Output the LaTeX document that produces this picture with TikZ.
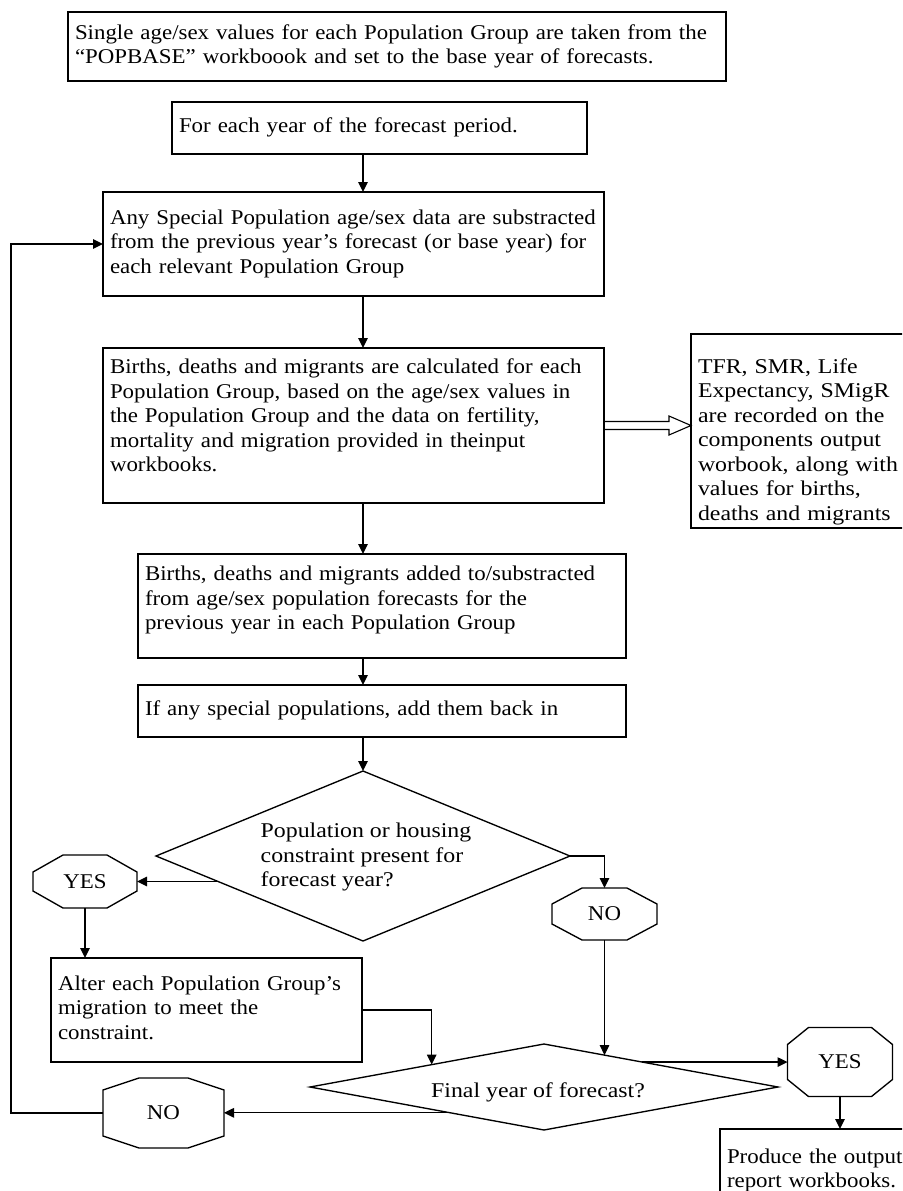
\documentclass[tikz,border=0pt]{standalone}
\usepackage{fontspec}
\setmainfont{Liberation Serif}
\newfontfamily\bodyfont[FakeStretch=1.09]{Liberation Serif}
\newfontfamily\widefont[FakeStretch=1.135]{Liberation Serif}
\usetikzlibrary{arrows.meta,calc,shapes.geometric}

% lines of a box, left aligned and never broken
\newcommand\boxlines[1]{\begin{tabular}{@{}l@{}}#1\end{tabular}}
% octagonal outline around a (rectangular) node: node, chamfer x, chamfer y
\newcommand\octagonframe[3]{%
  \draw ([xshift=#2]#1.north west) -- ([xshift=-#2]#1.north east)
     -- ([yshift=-#3]#1.north east) -- ([yshift=#3]#1.south east)
     -- ([xshift=-#2]#1.south east) -- ([xshift=#2]#1.south west)
     -- ([yshift=#3]#1.south west) -- ([yshift=-#3]#1.north west) -- cycle;}

\begin{document}
\begin{tikzpicture}[x=1pt,y=-1pt,line width=1.35pt,
  txt/.style={font=\fontsize{21}{24.5}\bodyfont},
  widetxt/.style={font=\fontsize{21}{24.5}\widefont},
  box/.style n args={2}{draw, rectangle, anchor=north west, inner xsep=7pt,
    inner ysep=0pt, outer sep=0pt, text width=#1, minimum height=#2,
    align=left, txt},
  dia/.style n args={2}{draw, diamond, inner sep=0pt, outer sep=0pt,
    minimum width=#1, minimum height=#2},
  octo/.style n args={2}{rectangle, inner sep=0pt, outer sep=0pt,
    minimum width=#1, minimum height=#2, txt},
  arr/.style={-{Triangle[length=10pt,width=9.5pt]}}]

\useasboundingbox (0,0) rectangle (902,1191);
\fill[white] (0,0) rectangle (902,1191);
\clip (0,0) rectangle (902,1191);

\coordinate (col) at (363,0);
\coordinate (lc) at (11,0);

% process boxes
\node[box={644pt}{69pt}] (b1) at (68,12) {\boxlines{Single age/sex values for each Population Group are taken from the\\“POPBASE” workboook and set to the base year of forecasts.}};
\node[box={401pt}{52pt}] (b2) at (172,102) {\boxlines{For each year of the forecast period.}};
\node[box={487pt}{104pt}] (b3) at (103,192) {\boxlines{Any Special Population age/sex data are substracted\\from the previous year’s forecast (or base year) for\\each relevant Population Group}};
\node[box={487pt}{155pt}] (b4) at (103,348) {\boxlines{Births, deaths and migrants are calculated for each\\Population Group, based on the age/sex values in\\the Population Group and the data on fertility,\\mortality and migration provided in theinput\\workbooks.\rule[-23pt]{0pt}{23pt}}};
\node[box={230pt}{194pt}, widetxt] (r) at (691,334) {\boxlines{\rule{0pt}{39pt}TFR, SMR, Life\\Expectancy, SMigR\\are recorded on the\\components output\\worbook, along with\\values for births,\\deaths and migrants}};
\node[box={474pt}{104pt}] (b5) at (138,554) {\boxlines{Births, deaths and migrants added to/substracted\\from age/sex population forecasts for the\\previous year in each Population Group\rule[-19pt]{0pt}{19pt}}};
\node[box={474pt}{52pt}] (b6) at (138,685) {\boxlines{If any special populations, add them back in}};

% first decision
\node[dia={414pt}{170pt}] (d1) at (363,856) {};
\node[widetxt, align=left] (d1t) at ($(d1.center)+(3,1)$) {Population or housing\\constraint present for\\forecast year?};

\node[octo={104pt}{53pt}] (yes1) at (85,881.5) {YES};
\octagonframe{yes1}{30pt}{17pt}
\node[octo={105pt}{52pt}] (no1) at (604.5,914) {NO};
\octagonframe{no1}{30pt}{16pt}

\node[box={297pt}{104pt}] (alt) at (51,958) {\boxlines{Alter each Population Group’s\\migration to meet the\\constraint.}};

% second decision
\node[dia={468pt}{86pt}] (d2) at (544,1087) {};
\node[widetxt] (d2t) at ($(d2.center)+(-6,5)$) {Final year of forecast?};

\node[octo={105pt}{69pt}] (yes2) at (840,1062) {YES};
\octagonframe{yes2}{21pt}{17pt}
\node[octo={121pt}{70pt}] (no2) at (163.5,1113) {NO};
\octagonframe{no2}{36pt}{12pt}

\node[draw, rectangle, anchor=north west, inner xsep=7pt, inner ysep=17pt,
  outer sep=0pt, text width=186pt, align=left, txt] (prod) at (720,1129)
  {\boxlines{Produce the output\\report workbooks.}};

% connectors
\draw[arr] (b2.south -| col) -- (b3.north -| col);
\draw[arr] (b3.south -| col) -- (b4.north -| col);
\draw[arr] (b4.south -| col) -- (b5.north -| col);
\draw[arr] (b5.south -| col) -- (b6.north -| col);
\draw[arr] (b6.south -| d1.north) -- (d1.north);

% hollow block arrow to the components box
\draw[line width=1.1pt] ($(b4.east)+(0,-4)$) -- ++(65,0) -- ++(0,-5.5)
  -- (b4.east -| r.west) -- ($(b4.east)+(65,9.5)$) -- ++(0,-5.5)
  -- ($(b4.east)+(0,4)$);

\coordinate (p1) at ($(d1.west)!0.3!(d1.south)$);
\draw[arr] (p1) -- (p1 -| yes1.east);
\draw[arr] (yes1.south) -- (yes1.south |- alt.north);
\draw[arr] (d1.east) -| (no1.north);

\coordinate (p2) at ($(d2.west)!0.52!(d2.north)$);
\draw[arr] (alt.east) -| (p2);
\coordinate (p3) at ($(d2.north)!0.258!(d2.east)$);
\draw[arr] (no1.south) -- (no1.south |- p3);
\coordinate (p4) at ($(d2.north)!0.42!(d2.east)$);
\draw[arr] (p4) -- (p4 -| yes2.west);
\draw[arr] (yes2.south) -- (yes2.south |- prod.north);
\coordinate (p5) at ($(d2.west)!0.6!(d2.south)$);
\draw[arr] (p5) -- (p5 -| no2.east);
\draw[arr] (no2.west) -| (lc |- b3.west) -- (b3.west);

\end{tikzpicture}
\end{document}
